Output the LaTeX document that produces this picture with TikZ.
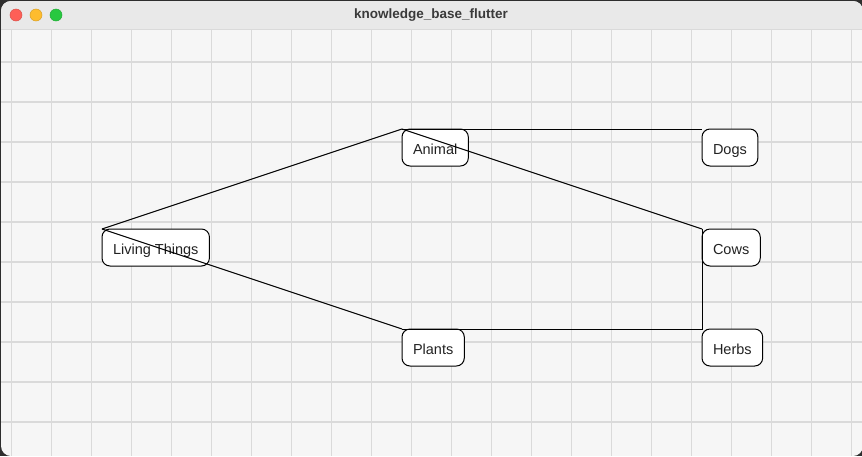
\documentclass[tikz,border=0pt]{standalone}
\usepackage{fontspec}
\setmainfont{Liberation Sans}
\definecolor{frame}{HTML}{2E2E2E}
\definecolor{canvas}{HTML}{F6F6F6}
\definecolor{titlebar}{HTML}{E9E9E9}
\definecolor{gridline}{HTML}{DADADA}
\definecolor{titletext}{HTML}{3A3A3A}
\definecolor{nodetext}{HTML}{222222}
\definecolor{closebtn}{HTML}{FE5F57}
\definecolor{minbtn}{HTML}{FEBC2E}
\definecolor{zoombtn}{HTML}{28C840}

\begin{document}
\begin{tikzpicture}[x=1pt, y=-1pt,
        gridv/.style={gridline, line width=1pt},
        gridh/.style={gridline, line width=2pt},
        light/.style={draw=#1!85!black, fill=#1, line width=0.5pt},
        concept/.style={draw=black, fill=white, rounded corners=8pt, line width=1pt, anchor=north west, outer sep=0pt, inner xsep=11pt, minimum height=37pt, text height=13pt, text depth=0pt, font=\fontsize{14.5}{17}\selectfont, text=nodetext},
        link/.style={black, line width=1pt}]
        \useasboundingbox (0,0) rectangle (862,456);
        \fill[frame] (0,0) rectangle (862,456);

        \begin{scope}
        \clip[rounded corners=10pt] (1,1) rectangle (863,456);
        \fill[canvas] (0,0) rectangle (862,456);
        \fill[titlebar] (0,0) rectangle (862,29);
        \draw[gridline, line width=1pt] (0,29)--(862,29);
        \foreach \gx in {11,51,...,851} \draw[gridv] (\gx,29)--(\gx,456);
        \foreach \gy in {62,102,...,422} \draw[gridh] (0,\gy)--(862,\gy);
        \end{scope}

        \filldraw[light=closebtn] (16,15) circle (6);
        \filldraw[light=minbtn] (36,15) circle (6);
        \filldraw[light=zoombtn] (56,15) circle (6);
        \node[font=\bfseries\fontsize{13.5}{16}\selectfont, text=titletext] (title) at (431,15) {knowledge\_base\_flutter};

        \node[concept] (living) at (102,229) {Living Things};
        \node[concept] (animal) at (402,129) {Animal};
        \node[concept] (plants) at (402,329) {Plants};
        \node[concept] (dogs) at (702,129) {Dogs};
        \node[concept] (cows) at (702,229) {Cows};
        \node[concept] (herbs) at (702,329) {Herbs};

        \draw[link] (living.north west)--(animal.north west);
        \draw[link] (living.north west)--(plants.north west);
        \draw[link] (animal.north west)--(dogs.north west);
        \draw[link] (animal.north west)--(cows.north west);
        \draw[link] (plants.north west)-|(cows.north west);
    \end{tikzpicture}
\end{document}
